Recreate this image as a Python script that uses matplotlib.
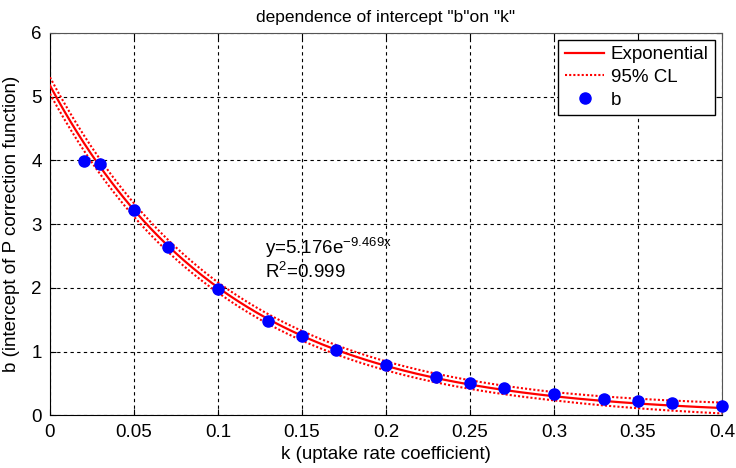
import numpy as np
import matplotlib
matplotlib.use("Agg")
import matplotlib.pyplot as plt

plt.rcParams['font.family'] = ['Liberation Sans', 'DejaVu Sans']

# Data points
k = [0.02, 0.03, 0.05, 0.07, 0.10, 0.13, 0.15, 0.17, 0.20, 0.23, 0.25, 0.27,
     0.30, 0.33, 0.35, 0.37, 0.40]
b = [3.99, 3.95, 3.22, 2.64, 1.98, 1.49, 1.24, 1.02, 0.79, 0.60, 0.51, 0.43,
     0.34, 0.26, 0.23, 0.20, 0.15]

# Exponential fit parameters (from the annotation)
fit_a = 5.176
fit_b = -9.469

# 95% CL half-width read at a few k values
cl_k = [0.0, 0.1, 0.2, 0.3, 0.4]
cl_half = [0.13, 0.08, 0.07, 0.065, 0.085]

xt = [0, 0.05, 0.1, 0.15, 0.2, 0.25, 0.3, 0.35, 0.4]
xtl = ['0', '0.05', '0.1', '0.15', '0.2', '0.25', '0.3', '0.35', '0.4']
yt = [0, 1, 2, 3, 4, 5, 6]

fig = plt.figure(figsize=(7.36, 4.68), dpi=100)
ax = fig.add_axes([0.0679, 0.1122, 0.913, 0.8173])

xx = np.linspace(0, 0.4, 300)
yy = fit_a * np.exp(fit_b * xx)
hw = np.interp(xx, cl_k, cl_half)

ax.plot(xx, yy, color='red', lw=1.6, label='Exponential', zorder=3)
ax.plot(xx, yy + hw, color='red', lw=1.5, ls=(0, (1, 1)), label='95% CL', zorder=3)
ax.plot(xx, yy - hw, color='red', lw=1.5, ls=(0, (1, 1)), zorder=3)
ax.plot(k, b, 'o', color='blue', ms=8, label='b', zorder=4, clip_on=False)

ax.set_xlim(0, 0.4)
ax.set_ylim(0, 6)
ax.set_xticks(xt)
ax.set_xticklabels(xtl)
ax.set_yticks(yt)
ax.grid(True, color='black', ls=(0, (3, 3)), lw=0.8)
ax.tick_params(direction='in', labelsize=13.5, top=True, right=True, length=4, pad=6)
for s in ax.spines.values():
    s.set_color('#555555')
ax.spines['left'].set_color('black')
ax.spines['bottom'].set_color('black')

ax.set_xlabel('k (uptake rate coefficient)', fontsize=13.5, labelpad=4)
ax.set_ylabel('b (intercept of P correction function)', fontsize=13.5, labelpad=8)
ax.set_title('dependence of intercept "b"on "k"', fontsize=12.5, pad=8)

ax.text(0.128, 2.64, r'y=5.176e$^{\mathregular{-9.469x}}$', fontsize=13.5, va='center', ha='left')
ax.text(0.128, 2.25, r'R$^{\mathregular{2}}$=0.999', fontsize=13.5, va='center', ha='left')

leg = ax.legend(loc='upper right', fontsize=13.5, fancybox=False, framealpha=1,
                edgecolor='black', borderpad=0.35, handlelength=2.1, labelspacing=0.3,
                borderaxespad=0.35, handletextpad=0.35)
leg.get_frame().set_linewidth(1.0)

fig.savefig('out.png', dpi=100)
